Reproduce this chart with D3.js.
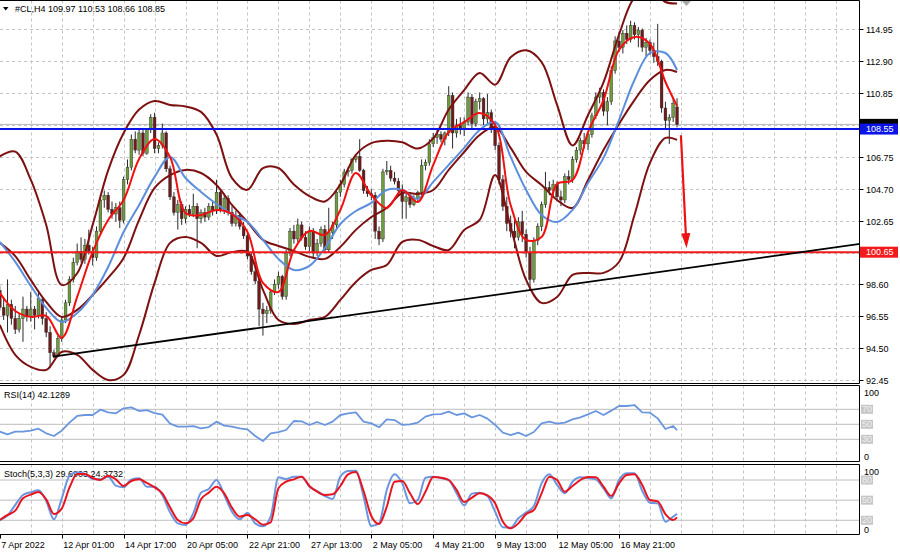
<!DOCTYPE html>
<html>
<head>
<meta charset="utf-8">
<script src="https://cdn.jsdelivr.net/npm/d3@7"></script>
<style>
  body { margin: 0; background: #fff; }
  svg { display: block; font-family: "Liberation Sans", Arial, sans-serif; font-size: 9px; }
</style>
</head>
<body>
<div id="chart"></div>
<script>
// ---- data read off the #CL,H4 screenshot ----
// one row per H4 bar: [open, high, low, close]
const candleRows = [
  [98.2,98.5,96.9,97.1],[97.1,97.7,96.3,96.6],[96.6,98.9,95.5,97.3],[97.3,97.6,96.0,96.4],
  [96.4,97.2,95.4,95.7],[95.7,96.7,95.5,96.4],[96.4,97.8,94.9,97.0],[97.0,97.2,96.2,96.5],
  [96.5,98.1,96.2,97.0],[97.0,97.2,95.7,96.6],[96.6,98.2,96.4,97.7],[97.6,97.8,96.0,96.4],
  [96.4,96.8,95.2,95.5],[95.5,95.9,93.2,94.2],[94.2,94.4,93.85,94.0],[94.0,95.3,93.9,95.1],
  [95.1,96.5,94.9,96.3],[96.3,97.6,96.1,97.4],[97.4,99.1,97.2,98.9],[98.9,100.3,98.7,100.0],
  [100.0,101.2,99.8,100.7],[100.7,101.6,100.0,100.2],[100.2,101.5,99.9,101.1],[101.1,102.1,100.5,100.7],
  [100.7,101.0,99.8,100.3],[100.3,102.3,100.1,102.0],[102.0,104.3,101.8,104.0],[104.0,104.6,103.5,104.3],
  [104.3,104.5,103.2,103.4],[103.4,103.9,102.8,103.1],[103.1,103.8,102.6,103.5],[103.5,103.9,102.2,102.7],
  [102.7,105.5,102.5,105.3],[105.3,106.6,105.0,106.1],[106.1,108.2,105.9,107.9],[107.9,108.4,107.0,107.2],
  [107.2,108.5,106.9,108.3],[108.3,108.5,106.8,107.0],[107.0,108.6,106.9,108.5],[108.5,109.5,108.3,109.3],
  [109.3,109.6,107.0,107.3],[107.3,107.7,107.0,107.5],[107.5,108.9,107.3,108.3],[108.3,108.4,105.8,106.0],
  [106.0,106.2,104.0,104.2],[104.2,104.5,103.0,103.2],[103.2,104.0,102.1,103.7],[103.7,103.9,102.4,102.8],
  [102.8,103.6,102.5,103.4],[103.4,103.7,102.9,103.1],[103.1,104.4,102.9,103.6],[103.6,103.8,100.9,102.8],
  [102.8,103.4,102.5,103.2],[103.2,103.5,102.6,102.9],[102.9,103.8,102.7,103.6],[103.6,103.9,103.0,103.3],
  [103.3,105.3,103.1,104.5],[104.5,104.7,103.2,103.4],[103.4,104.4,103.1,104.1],[104.1,104.3,103.0,103.2],
  [103.2,103.6,102.3,102.5],[102.5,103.3,102.3,103.0],[103.0,103.2,102.1,102.3],[102.3,102.6,101.5,101.7],
  [101.7,101.9,100.2,100.4],[100.4,100.6,99.2,99.4],[99.4,99.7,98.6,98.8],[98.8,99.0,95.9,97.0],
  [97.0,97.4,95.3,96.7],[96.7,97.2,96.1,96.9],[96.9,98.3,96.7,98.1],[98.1,98.9,97.9,98.6],
  [98.6,99.4,98.3,99.1],[99.1,99.2,97.6,97.8],[97.8,100.8,97.6,100.6],[100.6,102.2,100.4,102.0],
  [102.0,102.4,101.2,101.5],[101.5,102.8,101.3,102.4],[102.4,102.6,101.4,101.6],[101.6,102.0,100.8,101.0],
  [101.0,102.3,100.7,102.0],[102.0,102.2,100.3,100.6],[100.6,101.5,100.4,101.2],[101.2,102.3,101.0,102.1],
  [102.1,102.4,100.6,100.8],[100.8,103.5,100.6,101.9],[101.9,102.6,101.5,102.4],[102.4,104.7,102.2,104.5],
  [104.5,105.3,104.2,105.0],[105.0,106.0,104.8,105.8],[105.8,106.1,105.5,105.9],[105.9,106.7,105.7,106.6],
  [106.6,106.9,106.4,106.8],[106.8,107.9,105.8,105.9],[105.9,106.0,104.4,104.6],[104.6,104.9,104.2,104.4],
  [104.4,104.7,104.0,104.3],[104.3,104.5,101.5,102.0],[102.0,102.3,101.1,101.5],[101.5,106.0,101.3,105.8],
  [105.8,106.5,105.6,105.9],[105.9,106.2,105.2,105.4],[105.4,105.8,105.0,105.2],[105.2,105.4,104.3,104.6],
  [104.6,105.0,102.8,103.9],[103.9,104.6,102.8,104.2],[104.2,104.4,103.5,103.7],[103.7,104.3,103.6,104.1],
  [104.1,104.6,103.9,104.5],[104.5,106.6,104.3,106.2],[106.2,106.6,105.9,106.4],[106.4,107.9,106.2,107.6],
  [107.6,108.3,107.4,108.0],[108.0,108.5,107.6,108.2],[108.2,108.4,107.7,107.9],[107.9,108.4,107.5,108.3],
  [108.3,111.3,108.1,110.7],[110.7,110.9,107.3,108.3],[108.3,109.2,108.0,108.8],[108.8,109.3,108.2,108.5],
  [108.5,109.3,108.1,109.0],[109.0,110.9,108.8,110.6],[110.6,110.8,108.6,108.9],[108.9,110.5,108.7,110.3],
  [110.3,110.9,109.8,110.5],[110.5,110.6,108.8,109.2],[109.2,110.8,108.9,109.6],[109.6,109.8,108.3,108.6],
  [108.6,109.0,107.2,107.5],[107.5,107.7,105.0,105.3],[105.3,105.6,103.3,103.6],[103.6,104.2,102.0,102.5],
  [102.5,103.0,101.6,102.0],[102.0,102.9,100.9,101.6],[101.6,102.9,101.4,102.6],[102.6,103.3,101.3,101.8],
  [101.8,102.1,100.3,100.6],[100.6,101.0,98.2,98.9],[98.9,101.6,98.7,101.4],[101.4,102.5,101.1,102.3],
  [102.3,103.9,102.0,103.7],[103.7,105.8,103.5,104.8],[104.8,105.2,104.3,104.6],[104.6,105.3,104.2,105.0],
  [105.0,105.2,103.9,104.2],[104.2,104.6,103.6,104.0],[104.0,105.7,103.8,105.5],[105.5,105.9,105.0,105.3],
  [105.3,106.8,105.1,106.6],[106.6,107.4,106.4,107.2],[107.2,108.0,106.9,107.8],[107.8,108.3,107.3,107.6],
  [107.6,108.4,107.2,108.2],[108.2,109.6,108.0,109.4],[109.4,110.9,109.2,110.6],[110.6,111.2,110.2,110.9],
  [110.9,111.1,109.4,109.7],[109.7,110.6,108.8,110.3],[110.3,112.6,110.1,112.3],[112.3,114.5,112.1,114.2],
  [114.2,114.8,113.5,113.8],[113.8,114.9,113.4,114.7],[114.7,115.2,114.0,114.3],[114.3,115.5,114.1,115.2],
  [115.2,115.4,114.3,114.6],[114.6,115.1,113.8,114.9],[114.9,115.0,113.5,113.8],[113.8,114.4,113.2,114.1],
  [114.1,114.3,113.3,113.6],[113.6,114.1,112.8,113.2],[113.2,115.3,112.6,112.9],[112.9,113.0,109.6,109.9],
  [109.9,110.3,108.5,109.1],[109.1,109.5,107.6,109.3],[109.3,110.6,109.0,110.2],[109.97,110.53,108.66,108.85]
];

// overlay lines, read every 4th bar
const overlayBars = [0,4,8,12,16,20,24,28,32,36,40,44,48,52,56,60,64,68,72,76,80,84,88,92,96,
  100,104,108,112,116,120,124,128,132,136,140,144,148,152,156,160,164,168,172,175];
const upperBand = [106.8,107.1,105.3,102.4,98.55,99.3,102.4,105.9,108.3,109.8,110.35,110.1,110.0,109.65,
  108.2,105.4,104.65,106.05,106.05,105.0,104.25,103.9,105.0,106.9,107.65,107.8,107.7,107.3,107.95,109.8,
  111.05,112.15,111.4,113.15,113.6,112.85,110.1,107.5,109.45,111.55,114.6,117.0,117.6,116.7,116.6];
const slowLine = [101.25,100.4,98.87,97.46,96.5,96.95,97.9,99.0,100.28,102.72,104.77,105.6,105.93,105.73,
  104.96,103.68,102.59,101.44,101.05,100.73,100.35,100.22,100.99,102.08,102.91,103.49,104.45,104.39,104.64,
  105.93,107.08,108.17,108.68,107.34,105.8,104.96,104.0,103.49,105.28,107.21,108.88,110.41,111.7,112.34,112.21];
const lowerBand = [95.98,94.06,93.29,93.1,94.25,94.06,93.1,92.45,92.78,95.34,98.68,101.25,101.63,101.25,
  100.41,100.66,100.66,98.23,96.3,96.05,96.3,96.5,97.59,98.74,99.51,99.83,101.31,101.44,101.05,100.79,
  102.08,102.72,105.6,102.27,98.87,97.4,97.78,99.19,99.32,99.32,100.02,103.04,106.38,107.98,107.85];
const blueMA = [101.31,100.03,98.49,97.08,96.18,96.75,97.91,99.7,101.95,103.68,105.48,106.76,105.41,104.51,
  103.74,103.1,102.59,101.44,100.22,99.51,99.77,100.92,102.46,103.29,103.81,104.64,104.64,104.07,105.16,
  106.25,107.34,108.49,109.0,106.76,104.64,103.04,102.59,103.36,105.09,106.7,109.13,111.7,113.43,113.43,112.34];
const redMA = [98.04,96.88,96.5,96.56,95.15,97.78,100.67,102.72,104.0,106.63,107.91,106.76,103.17,103.04,
  103.36,103.1,101.95,98.68,98.1,100.79,102.01,101.76,103.36,105.73,104.32,103.49,104.64,103.87,106.25,
  108.36,109.0,109.58,108.81,103.68,101.44,101.63,105.03,105.28,108.36,110.41,113.62,114.46,114.01,111.57,110.03];

// oscillators, read every 2nd bar
const oscBars = [0,2,4,6,8,10,12,14,16,18,20,22,24,26,28,30,32,34,36,38,40,42,44,46,48,50,52,54,56,58,
  60,62,64,66,68,70,72,74,76,78,80,82,84,86,88,90,92,94,96,98,100,102,104,106,108,110,112,114,116,118,
  120,122,124,126,128,130,132,134,136,138,140,142,144,146,148,150,152,154,156,158,160,162,164,166,168,
  170,172,174,175];
const rsiValues = [40.2,36.6,40.2,40.2,41.5,44.2,38,34.4,41.5,52.2,61.1,62.4,62.4,69.5,65.9,64.6,71.3,72.6,
  67.7,69,65,62.8,50.8,46.8,46.8,47.7,44.6,46.3,53.5,48.2,46.8,44.6,43.3,34.4,27.7,38,39.7,42.4,54.4,54,
  49.1,53.1,49.1,53.5,62.4,64.6,65.9,53.5,51.3,46,56.6,55.7,49.1,50,52.2,60.2,63.3,63.7,66.8,62.4,64.6,
  59.3,62.4,57.5,49.1,38.9,35.7,38.9,34.4,39.7,51.3,53.5,50.8,52.2,56.6,59.3,63.3,67.7,62.4,68.2,74.4,
  74.4,75.7,66,65.5,57.9,43.7,47.7,42.13];
const stochMain = [20.4,26.9,43,57.7,61.7,64.6,48.7,21.4,52.2,86,91.5,89,81.5,81,85,71.6,69.1,81,82.5,70.1,
  70.1,57.7,31.8,15.4,13,30.3,61.2,66.6,80,57.7,32.8,21.4,31.3,15.4,11,25.4,84,81.5,85,85,70.1,63.6,56.2,
  51.7,85,93.4,93.9,55.2,11.5,15.4,65.1,88.5,75,45.2,50.2,83.5,85,83,80,60.6,42.3,59.7,61.2,56.2,32.8,
  9.5,9,22.9,31.8,41.3,75,88.5,72.6,60.2,77.5,84,83,81,67.6,52.7,80,90,90,64.1,46.2,45.2,17.9,25.4,29.69];
const stochSignal = [20.4,27.9,34.3,52.7,58.2,62.2,51.2,29.3,37.3,68.6,89,89,83,80,86.5,81,71.1,78.5,81,75.6,
  69.1,60.2,39.3,20.4,15.4,22.9,51.2,61.2,70.1,60.2,38.8,25.4,27.9,21.4,13.5,17,67.6,77.5,81,85,71.1,62.6,
  57.7,58.7,71.1,88.5,91.9,63.6,26.4,14.4,40.3,77.5,78.5,60.2,44.2,62.6,84.5,83.5,80,65.6,47.2,53.7,60.2,
  57.2,45.2,17.9,8,15.4,29.3,35.3,60.2,85,80,62.6,71.1,80,84.5,84,70.1,56.2,75,87.5,88.5,72.6,50.2,48.2,
  29.3,20.4,24.37];

// price grid levels; the two marked false sit under the coloured price boxes
const priceTicks = ["114.95","112.90","110.85","108.80","106.75","104.70","102.65","100.60","98.60","96.55","94.50","92.45"];
const priceTickShown = [true,true,true,false,true,true,true,false,true,true,true,true];
const timeLabels = [[0,"7 Apr 2022"],[16,"12 Apr 01:00"],[32,"14 Apr 17:00"],[48,"20 Apr 05:00"],[64,"22 Apr 21:00"],
  [80,"27 Apr 13:00"],[96,"2 May 05:00"],[112,"4 May 21:00"],[128,"9 May 13:00"],[144,"12 May 05:00"],[160,"16 May 21:00"]];
const rsiLevels = [70, 50, 30];
const stochLevels = [80, 50, 20];

const resistance = 108.55, support = 100.65, bidPrice = 108.85;
const trendFrom = [13.7, 93.95], trendTo = [222.3, 101.18];
const arrowFrom = [176, 108.15], arrowTo = [177.45, 100.9];
const header = "#CL,H4  109.97 110.53 108.66 108.85";

// ---- layout ----
const W = 900, H = 556, plotR = 859.5;
const mainTop = 0.5, mainBot = 383.5, rsiTop = 385.5, rsiBot = 461.5, stTop = 464.5, stBot = 534.5;

const x = d3.scaleLinear().domain([16, 160]).range([61.7, 619]);
const yMain = d3.scaleLinear().domain([92.45, 114.95]).range([380, 29.3]);
const yRsi = d3.scaleLinear().domain([0, 100]).range([461.8, 386.8]);
const ySt = d3.scaleLinear().domain([0, 100]).range([533.7, 466.6]);

const svg = d3.select("#chart").append("svg").attr("width", W).attr("height", H);
svg.append("rect").attr("width", W).attr("height", H).attr("fill", "#fff");

const defs = svg.append("defs");
function clip(id, y0, y1) {
  defs.append("clipPath").attr("id", id).append("rect")
    .attr("x", 0).attr("y", y0).attr("width", plotR).attr("height", y1 - y0);
  return "url(#" + id + ")";
}
const clipMain = clip("cm", mainTop + 0.5, mainBot - 0.5);
const clipRsi = clip("cr", rsiTop + 0.5, rsiBot - 0.5);
const clipSt = clip("cs", stTop + 0.5, stBot - 0.5);

const gridColor = "#c4c4c4";
const gridBars = d3.range(8, 224, 8);

// vertical grid in each window
[[mainTop, mainBot], [rsiTop, rsiBot], [stTop, stBot]].forEach(([a, b]) => {
  svg.append("g").selectAll("line").data(gridBars).enter().append("line")
    .attr("x1", d => Math.round(x(d)) + 0.5).attr("x2", d => Math.round(x(d)) + 0.5)
    .attr("y1", a).attr("y2", b)
    .attr("stroke", gridColor).attr("stroke-dasharray", "3,3");
});

// horizontal grid in main window
svg.append("g").selectAll("line").data(priceTicks).enter().append("line")
  .attr("x1", 0).attr("x2", plotR)
  .attr("y1", d => Math.round(yMain(+d)) + 0.5).attr("y2", d => Math.round(yMain(+d)) + 0.5)
  .attr("stroke", gridColor).attr("stroke-dasharray", "3,3");

// level lines
svg.append("g").selectAll("line").data(rsiLevels).enter().append("line")
  .attr("x1", 0).attr("x2", plotR).attr("y1", d => yRsi(d)).attr("y2", d => yRsi(d))
  .attr("stroke", "#bdbdbd");
svg.append("g").selectAll("line").data(stochLevels).enter().append("line")
  .attr("x1", 0).attr("x2", plotR).attr("y1", d => ySt(d)).attr("y2", d => ySt(d))
  .attr("stroke", "#bdbdbd");

// ---- main window ----
const gMain = svg.append("g").attr("clip-path", clipMain);

// bid line
gMain.append("line").attr("x1", 0).attr("x2", plotR)
  .attr("y1", yMain(bidPrice)).attr("y2", yMain(bidPrice)).attr("stroke", "#b8b8b8");

// candles
const candles = gMain.append("g").selectAll("g").data(candleRows).enter().append("g");
candles.append("line")
  .attr("x1", (d, i) => x(i)).attr("x2", (d, i) => x(i))
  .attr("y1", d => yMain(d[1])).attr("y2", d => yMain(d[2]))
  .attr("stroke", "#2a2a2a").attr("stroke-width", 1);
candles.append("rect")
  .attr("x", (d, i) => x(i) - 1.4).attr("width", 2.8)
  .attr("y", d => yMain(Math.max(d[0], d[3])))
  .attr("height", d => Math.max(0.8, Math.abs(yMain(d[0]) - yMain(d[3]))))
  .attr("fill", d => d[3] >= d[0] ? "#6c9c3c" : "#6e1a1a")
  .attr("stroke", "#2a2a2a").attr("stroke-width", 0.4);

// overlays
function overlay(values, color, width) {
  const line = d3.line().x((d, i) => x(overlayBars[i])).y(d => yMain(d))
    .curve(d3.curveCatmullRom.alpha(0.5));
  gMain.append("path").attr("d", line(values)).attr("fill", "none")
    .attr("stroke", color).attr("stroke-width", width).attr("stroke-linejoin", "round");
}
overlay(upperBand, "#7d1111", 2);
overlay(lowerBand, "#7d1111", 2);
overlay(slowLine, "#7d1111", 2);
overlay(blueMA, "#5b8fdd", 2);
overlay(redMA, "#f01010", 2);

// horizontal levels
gMain.append("line").attr("x1", 0).attr("x2", plotR)
  .attr("y1", yMain(resistance)).attr("y2", yMain(resistance))
  .attr("stroke", "#0a14e6").attr("stroke-width", 2);
gMain.append("line").attr("x1", 0).attr("x2", plotR)
  .attr("y1", yMain(support)).attr("y2", yMain(support))
  .attr("stroke", "#f21a1a").attr("stroke-width", 2);

// trend line
gMain.append("line")
  .attr("x1", x(trendFrom[0])).attr("y1", yMain(trendFrom[1]))
  .attr("x2", x(trendTo[0])).attr("y2", yMain(trendTo[1]))
  .attr("stroke", "#000").attr("stroke-width", 1.8);

// forecast arrow
{
  const p0 = [x(arrowFrom[0]), yMain(arrowFrom[1])];
  const p1 = [x(arrowTo[0]), yMain(arrowTo[1])];
  const dx = p1[0] - p0[0], dy = p1[1] - p0[1], len = Math.hypot(dx, dy);
  const ux = dx / len, uy = dy / len, headLen = 15, headW = 4.5;
  const bx = p1[0] - ux * headLen, by = p1[1] - uy * headLen;
  gMain.append("line").attr("x1", p0[0]).attr("y1", p0[1]).attr("x2", bx + ux * 2).attr("y2", by + uy * 2)
    .attr("stroke", "#ee1111").attr("stroke-width", 2.2);
  gMain.append("path")
    .attr("d", `M${p1[0]},${p1[1]}L${bx - uy * headW},${by + ux * headW}L${bx + uy * headW},${by - ux * headW}Z`)
    .attr("fill", "#ee1111");
}

// chart shift marker
svg.append("path")
  .attr("d", `M${x(176) + 1},1L${x(176) + 10},1L${x(176) + 5.5},6Z`)
  .attr("fill", "#a8a8a8");

// header
svg.append("path").attr("d", "M3,7L8.5,7L5.75,10.5Z").attr("fill", "#000");
svg.append("text").attr("x", 15).attr("y", 11.5).attr("fill", "#000").text(header);

// ---- RSI window ----
const gRsi = svg.append("g").attr("clip-path", clipRsi);
gRsi.append("text").attr("x", 4).attr("y", 398).attr("fill", "#000").text("RSI(14) 42.1289");
gRsi.append("path")
  .attr("d", d3.line().x((d, i) => x(oscBars[i])).y(d => yRsi(d))(rsiValues))
  .attr("fill", "none").attr("stroke", "#6a96e0").attr("stroke-width", 1.8).attr("stroke-linejoin", "round");

// ---- Stochastic window ----
const gSt = svg.append("g").attr("clip-path", clipSt);
gSt.append("text").attr("x", 4).attr("y", 477).attr("fill", "#000").text("Stoch(5,3,3) 29.6903 24.3732");
const stLine = d3.line().x((d, i) => x(oscBars[i])).y(d => ySt(d)).curve(d3.curveMonotoneX);
gSt.append("path").attr("d", stLine(stochMain)).attr("fill", "none")
  .attr("stroke", "#6a96e0").attr("stroke-width", 2);
gSt.append("path").attr("d", stLine(stochSignal)).attr("fill", "none")
  .attr("stroke", "#e8141e").attr("stroke-width", 2);

// ---- frames ----
const frame = svg.append("g").attr("stroke", "#000").attr("stroke-width", 1);
[mainTop, mainBot, rsiTop, rsiBot, stTop, stBot].forEach(y =>
  frame.append("line").attr("x1", 0).attr("x2", plotR).attr("y1", y).attr("y2", y));
[[mainTop, mainBot], [rsiTop, rsiBot], [stTop, stBot]].forEach(([a, b]) =>
  frame.append("line").attr("x1", plotR).attr("x2", plotR).attr("y1", a).attr("y2", b));

// ---- right price axis ----
const axisR = svg.append("g");
priceTicks.forEach((t, i) => {
  const y = Math.round(yMain(+t)) + 0.5;
  axisR.append("line").attr("x1", plotR).attr("x2", plotR + 4).attr("y1", y).attr("y2", y).attr("stroke", "#000");
  if (priceTickShown[i]) axisR.append("text").attr("x", 866).attr("y", y + 3).attr("fill", "#000").text(t);
});
function priceBox(v, bg, label) {
  const y = yMain(v);
  axisR.append("rect").attr("x", plotR + 0.5).attr("y", y - 5.5).attr("width", 38).attr("height", 11).attr("fill", bg);
  if (label) axisR.append("text").attr("x", 866).attr("y", y + 3.3).attr("fill", "#fff").text(label);
}
// bid box is almost fully hidden behind the blue level box
priceBox(bidPrice, "#000", null);
priceBox(resistance, "#0a14e6", "108.55");
priceBox(support, "#f21a1a", "100.65");

// oscillator scales
function oscAxis(scale, levels, top, bottom) {
  axisR.append("text").attr("x", 864).attr("y", top + 10).attr("fill", "#000").text("100");
  axisR.append("text").attr("x", 864).attr("y", bottom - 2).attr("fill", "#000").text("0");
  levels.forEach(v => {
    const y = scale(v);
    axisR.append("rect").attr("x", 861).attr("y", y - 4.5).attr("width", 12).attr("height", 9).attr("fill", "#c6c6c6");
    axisR.append("text").attr("x", 862).attr("y", y + 3).attr("fill", "#f2f2f2").text(v);
  });
}
oscAxis(yRsi, rsiLevels, rsiTop, rsiBot);
oscAxis(ySt, stochLevels, stTop, stBot);

// ---- time axis ----
const axisB = svg.append("g");
timeLabels.forEach(([b, t]) => {
  const xx = Math.round(x(b)) + 0.5;
  axisB.append("line").attr("x1", xx).attr("x2", xx).attr("y1", stBot).attr("y2", stBot + 4).attr("stroke", "#000");
  axisB.append("text").attr("x", x(b) + 1.5).attr("y", 547.5).attr("fill", "#000").text(t);
});
</script>
</body>
</html>
